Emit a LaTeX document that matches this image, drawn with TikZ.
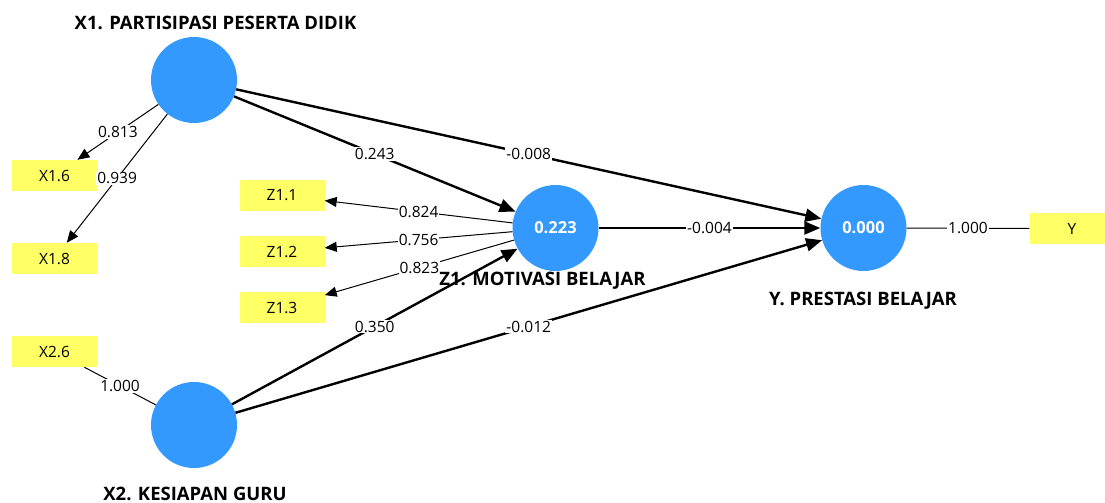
\documentclass[tikz,border=0pt]{standalone}
\usepackage{fontspec}
\setmainfont{Open Sans}
\usetikzlibrary{arrows.meta}
\definecolor{lvblue}{RGB}{51,153,255}
\definecolor{mvyellow}{RGB}{255,255,102}
\begin{document}
\begin{tikzpicture}[x=1pt,y=-1pt,
 lv/.style={circle,fill=lvblue,minimum size=86pt,inner sep=0pt,text=white,font=\fontsize{16.5}{19}\selectfont\bfseries},
 mv/.style={rectangle,fill=mvyellow,minimum width=85pt,minimum height=31pt,inner sep=0pt,font=\fontsize{15.5}{18}\selectfont},
 ttl/.style={anchor=base,inner sep=0pt,font=\fontsize{18.5}{22}\selectfont\bfseries},
 coef/.style={fill=white,inner sep=1pt,font=\fontsize{15.5}{18}\selectfont},
 structpath/.style={line width=2.4pt,-{Triangle[length=16pt,width=13pt]}},
 loadpath/.style={line width=1pt,-{Triangle[length=12pt,width=10pt]}},
 linkpath/.style={line width=1pt},
]
\useasboundingbox (0,0) rectangle (1105,503);
% latent variables
\node[lv] (X1) at (194,80) {};
\node[lv] (X2) at (194,425) {};
\node[lv] (Z1) at (555.5,228) {0.223};
\node[lv] (Y) at (863.5,228) {0.000};
% indicators
\node[mv] (X16) at (54.5,175.5) {X1.6};
\node[mv] (X18) at (54.5,258.5) {X1.8};
\node[mv] (X26) at (54.5,351.5) {X2.6};
\node[mv] (Z11) at (282,195.5) {Z1.1};
\node[mv] (Z12) at (282,251.5) {Z1.2};
\node[mv] (Z13) at (282,307.5) {Z1.3};
\node[mv] (Yi) at (1072,228.5) {Y};
% structural paths
\draw[structpath] (X1) -- node[coef]{0.243} (Z1);
\draw[structpath] (X1) -- node[coef]{-0.008} (Y);
\draw[structpath] (X2) -- node[coef]{0.350} (Z1);
\draw[structpath] (X2) -- node[coef]{-0.012} (Y);
\draw[structpath] (Z1) -- node[coef]{-0.004} (Y);
% loadings
\draw[loadpath] (X1) -- node[coef]{0.813} (X16);
\draw[loadpath] (X1) -- node[coef]{0.939} (X18);
\draw[loadpath] (Z1) -- node[coef]{0.824} (Z11);
\draw[loadpath] (Z1) -- node[coef]{0.756} (Z12);
\draw[loadpath] (Z1) -- node[coef]{0.823} (Z13);
\draw[linkpath] (X26) -- node[coef]{1.000} (X2);
\draw[linkpath] (Y) -- node[coef]{1.000} (Yi);
% titles
\node[ttl] (tX1) at (215.5,30) {X1. PARTISIPASI PESERTA DIDIK};
\node[ttl] (tX2) at (195,500.5) {X2. KESIAPAN GURU};
\node[ttl] (tZ1) at (542.5,285.5) {Z1. MOTIVASI BELAJAR};
\node[ttl] (tY) at (863,305) {Y. PRESTASI BELAJAR};
\end{tikzpicture}
\end{document}
